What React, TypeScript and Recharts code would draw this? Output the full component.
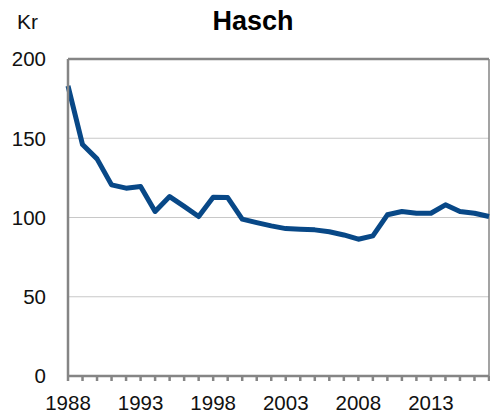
import { CartesianGrid, Line, LineChart, ReferenceLine, XAxis, YAxis } from 'recharts'

const YEARS = [
  1988, 1989, 1990, 1991, 1992, 1993, 1994, 1995, 1996, 1997,
  1998, 1999, 2000, 2001, 2002, 2003, 2004, 2005, 2006, 2007,
  2008, 2009, 2010, 2011, 2012, 2013, 2014, 2015, 2016, 2017,
]
const PRICES = [
  183, 146, 137, 120.6, 118.5, 119.6, 103.8, 113.2, 107, 100.6,
  112.8, 112.6, 99, 96.8, 94.7, 93, 92.6, 92.2, 91, 89,
  86.3, 88.4, 101.7, 103.8, 102.7, 102.7, 108, 103.8, 102.7, 100.6,
]
const Y_TICKS = [0, 50, 100, 150, 200]

const LINE_COLOR = '#084887'
const AXIS_COLOR = '#858585'
const FONT = '"Liberation Sans", Arial, sans-serif'

const data = YEARS.map((year, i) => ({ year, price: PRICES[i] }))

export default function App() {
  return (
    <div style={{ position: 'absolute', left: 0, top: 0, width: 490, height: 412, fontFamily: FONT, background: '#fff' }}>
      <span style={{ position: 'absolute', left: 17, top: 10, fontSize: 21, color: '#111' }}>Kr</span>
      <span
        style={{
          position: 'absolute',
          left: 0,
          width: 506,
          top: 6,
          textAlign: 'center',
          fontSize: 27,
          fontWeight: 'bold',
          color: '#000',
        }}
      >
        Hasch
      </span>
      <LineChart
        width={490}
        height={412}
        data={data}
        margin={{ top: 59, right: 1, bottom: 0, left: 0 }}
        style={{ fontFamily: FONT }}
      >
        <CartesianGrid stroke="#c8c8c8" strokeWidth={1.2} vertical={false} />
        <XAxis
          dataKey="year"
          type="number"
          domain={[1988, 2017]}
          ticks={YEARS}
          interval={0}
          height={36}
          tickFormatter={(y: number) => ((y - 1988) % 5 === 0 ? String(y) : '')}
          stroke={AXIS_COLOR}
          strokeWidth={2.5}
          tickSize={5}
          tickMargin={14}
          tick={{ fill: '#111', fontSize: 20.5 }}
        />
        <YAxis
          domain={[0, 200]}
          ticks={Y_TICKS}
          width={68}
          tickLine={false}
          tickSize={0}
          tickMargin={22}
          axisLine={{ stroke: AXIS_COLOR, strokeWidth: 2.5 }}
          tick={{ fill: '#111', fontSize: 20.5 }}
        />
        <ReferenceLine y={200} stroke={AXIS_COLOR} strokeWidth={2.5} />
        <ReferenceLine x={2017} stroke={AXIS_COLOR} strokeWidth={1.5} />
        <Line
          type="linear"
          dataKey="price"
          stroke={LINE_COLOR}
          strokeWidth={5}
          strokeLinejoin="round"
          dot={false}
          isAnimationActive={false}
        />
      </LineChart>
    </div>
  )
}
